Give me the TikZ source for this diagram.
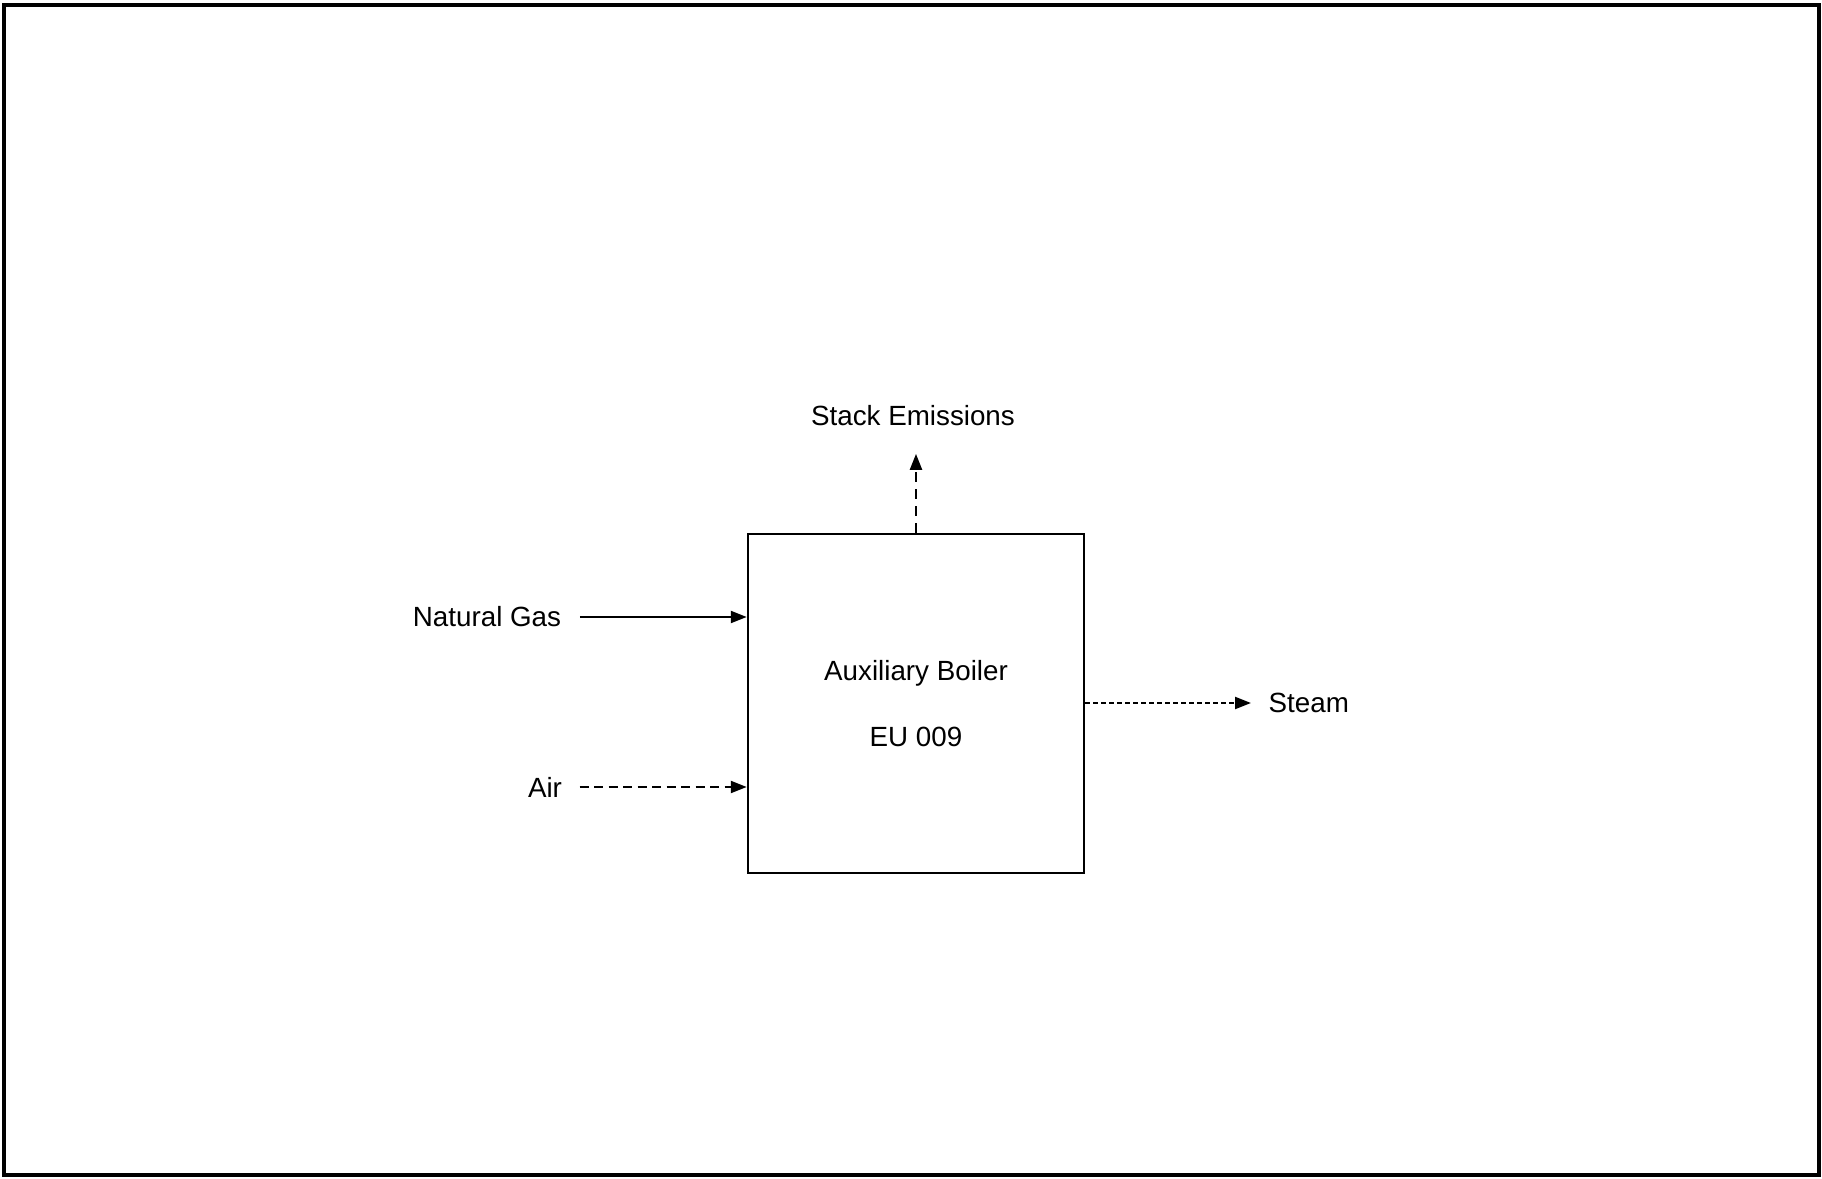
\documentclass[tikz,border=0pt]{standalone}
\usepackage{fontspec}
\setmainfont{Liberation Sans}
\usetikzlibrary{arrows.meta}
\begin{document}
\begin{tikzpicture}[
  lbl/.style={inner sep=0pt, font=\fontsize{7.9}{9}\selectfont},
  boilerbox/.style={draw, line width=0.7pt, minimum width=3.36cm, minimum height=3.39cm,
    align=center, inner sep=0pt, font=\fontsize{7.9}{18.8}\selectfont},
  flow/.style={line width=0.65pt, -{Triangle[length=0.16cm,width=0.12cm]}},
  airdash/.style={dash pattern=on 0.09cm off 0.055cm},
  steamdash/.style={dash pattern=on 0.045cm off 0.035cm},
  stackdash/.style={dash pattern=on 0.1cm off 0.07cm}
]
\useasboundingbox (0,0) rectangle (18.22,-11.79);
\draw[line width=0.9pt] (0.04,-0.05) rectangle (18.19,-11.75);

\node[boilerbox] (boiler) at (9.16,-7.035) {Auxiliary Boiler\\EU 009};

\node[lbl] (ng) at (4.87,-6.17) {Natural Gas};
\node[lbl] (air) at (5.45,-7.87) {Air};
\node[lbl] (stack) at (9.13,-4.16) {Stack Emissions};
\node[lbl, anchor=west] (steam) at (12.68,-7.03) {Steam};

\draw[flow] ([xshift=0.18cm]ng.east) -- (boiler.west |- ng);
\draw[flow, airdash] ([xshift=0.17cm]air.east) -- (boiler.west |- air);
\draw[flow, stackdash] (boiler.north) -- ([yshift=-0.27cm]boiler.north |- stack.south);
\draw[flow, steamdash] (boiler.east |- steam) -- ([xshift=-0.17cm]steam.west);
\end{tikzpicture}
\end{document}
